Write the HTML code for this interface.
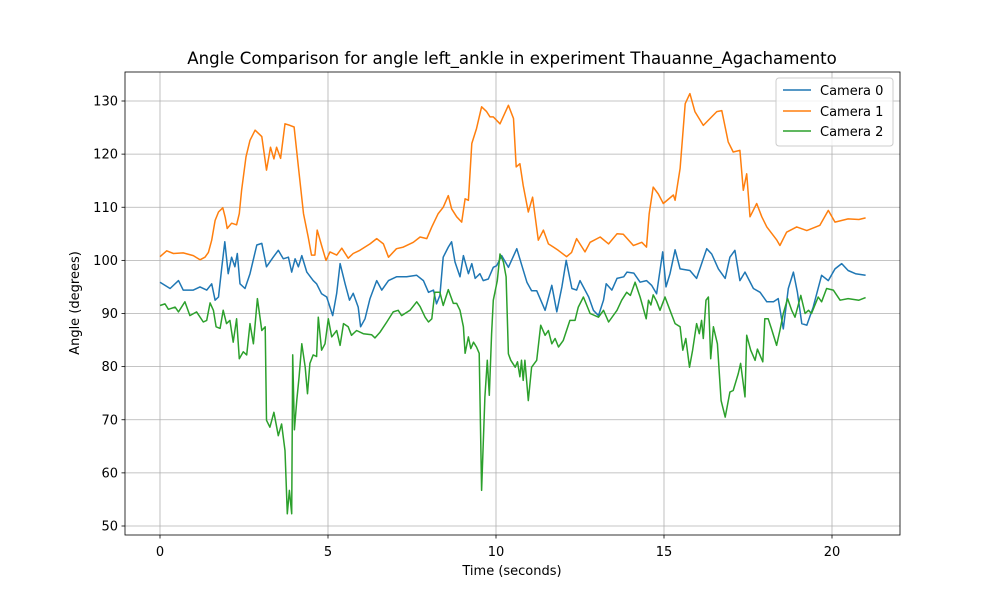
<!DOCTYPE html>
<html><head><meta charset="utf-8"><style>
body{margin:0;background:#fff}
svg text{font-family:"DejaVu Sans","Liberation Sans",sans-serif;fill:#000}
</style></head><body>
<svg id="chart" width="1000" height="600" xmlns="http://www.w3.org/2000/svg">
<rect width="1000" height="600" fill="#fff"/>
<g id="grid"></g>
<g id="series"></g>
<rect x="125" y="72" width="775" height="463" fill="none" stroke="#000" stroke-width="0.8"/>
<g id="ticks"></g>
<text x="512" y="64" font-size="16.6" text-anchor="middle">Angle Comparison for angle left_ankle in experiment Thauanne_Agachamento</text>
<text x="512" y="575" font-size="13" text-anchor="middle">Time (seconds)</text>
<text x="79" y="303" font-size="13" text-anchor="middle" transform="rotate(-90 79 303)">Angle (degrees)</text>
<g>
<rect x="776" y="78" width="117" height="68" rx="3" fill="#fff" fill-opacity="0.8" stroke="#ccc"/>
<line x1="783" y1="90" x2="811" y2="90" stroke="#1f77b4" stroke-width="1.5"/>
<text x="820" y="95" font-size="13">Camera 0</text>
<line x1="783" y1="111" x2="811" y2="111" stroke="#ff7f0e" stroke-width="1.5"/>
<text x="820" y="116" font-size="13">Camera 1</text>
<line x1="783" y1="131" x2="811" y2="131" stroke="#2ca02c" stroke-width="1.5"/>
<text x="820" y="136" font-size="13">Camera 2</text>
</g>
</svg>
<script>
const xTicks=[0,5,10,15,20];
const yTicks=[50,60,70,80,90,100,110,120,130];
const t1=[0,0.2,0.4,0.69,0.99,1.19,1.34,1.44,1.54,1.64,1.74,1.87,1.94,2.0,2.13,2.28,2.36,2.43,2.56,2.68,2.83,3.03,3.17,3.29,3.39,3.47,3.59,3.72,3.87,3.99,4.12,4.27,4.41,4.51,4.61,4.68,4.81,4.94,5.06,5.26,5.41,5.6,5.75,5.95,6.25,6.45,6.65,6.8,7.04,7.24,7.54,7.74,7.94,8.09,8.28,8.43,8.58,8.68,8.83,8.98,9.08,9.18,9.28,9.42,9.57,9.72,9.82,9.92,10.12,10.37,10.52,10.6,10.71,10.81,10.96,11.09,11.26,11.41,11.56,11.71,11.85,12.1,12.25,12.4,12.65,12.8,13.1,13.35,13.6,13.79,14.09,14.34,14.48,14.56,14.68,14.83,14.98,15.28,15.33,15.48,15.63,15.77,15.92,16.17,16.57,16.72,16.91,17.06,17.26,17.36,17.46,17.56,17.76,17.91,18.06,18.36,18.45,18.65,18.95,19.25,19.64,19.89,20.09,20.48,20.8,21.0];
const v1=[100.7,101.8,101.3,101.4,100.9,100.1,100.6,101.5,103.8,107.5,109.1,109.9,108.1,106,107,106.7,108.8,113.2,119.5,122.6,124.5,123.3,117,121.3,119.1,121.3,119.2,125.7,125.4,125.1,117.6,108.8,104.4,101,101,105.7,102.8,100,101.6,101,102.3,100.4,101.3,101.9,103.1,104.1,103.1,100.6,102.2,102.5,103.4,104.4,104.1,106.3,108.8,110,112.2,109.7,108.2,107.2,111.6,111.3,122,124.8,128.9,128,127,127,125.7,129.2,126.7,117.6,118.2,114.1,109.1,111.9,103.8,105.7,103.1,102.5,101.9,100.7,101.5,104.1,101.6,103.4,104.4,103.1,105,104.9,102.8,103.4,102.5,108.8,113.8,112.5,110.7,112.3,111.3,117.3,129.5,131.4,128,125.4,128,128.2,122.3,120.4,120.7,113.2,116.3,108.2,110.7,108.2,106.3,103.8,102.8,105.3,106.3,105.6,106.6,109.4,107.2,107.8,107.7,108];
const t0=[0,0.3,0.55,0.69,0.99,1.19,1.39,1.54,1.64,1.74,1.84,1.93,2.03,2.13,2.23,2.3,2.38,2.53,2.68,2.88,3.03,3.17,3.37,3.52,3.67,3.82,3.92,4.02,4.12,4.22,4.37,4.56,4.66,4.81,4.96,5.14,5.26,5.36,5.51,5.64,5.75,5.9,5.97,6.1,6.25,6.45,6.6,6.8,7.04,7.34,7.64,7.84,7.99,8.14,8.23,8.33,8.43,8.58,8.68,8.78,8.93,9.03,9.18,9.28,9.38,9.52,9.62,9.77,9.92,10.02,10.17,10.37,10.62,10.77,10.92,11.06,11.21,11.46,11.66,11.81,11.96,12.09,12.26,12.4,12.5,12.76,12.9,13.05,13.2,13.28,13.45,13.6,13.8,13.9,14.1,14.29,14.48,14.63,14.78,14.96,15.06,15.18,15.33,15.48,15.77,15.97,16.27,16.42,16.62,16.82,16.96,17.11,17.26,17.41,17.66,17.86,18.06,18.26,18.4,18.55,18.7,18.85,18.97,19.1,19.25,19.44,19.69,19.89,20.09,20.29,20.48,20.7,21.0];
const v0=[95.9,94.7,96.2,94.4,94.4,95,94.4,95.6,92.5,93.1,98.7,103.5,97.5,100.6,98.8,101.3,95.6,94.7,97.5,102.9,103.2,98.8,100.6,101.9,100.3,100.6,97.8,100.3,98.8,100.9,97.8,96.2,95.6,93.7,93.1,89.6,93.8,99.4,95.6,92.5,93.8,91.2,87.5,89,92.8,96.2,94.4,96.2,96.9,96.9,97.2,96.2,94,94.4,91.8,93.4,100.6,102.5,103.5,99.7,96.9,100.9,97.5,99.4,96.6,97.5,96.2,96.5,98.7,99,100.9,98.7,102.2,99,95.9,94.3,94.3,90.6,95.3,90.3,95,100,94.7,94.4,96.2,93.1,90.6,89.6,92.5,95.6,94.4,96.6,96.9,97.8,97.6,95.9,96.2,95.3,93.7,101.6,95,97.5,102,98.4,98.1,96.6,102.2,101.2,98.4,96.6,100.6,101.9,96.2,97.8,94.7,94,92.2,92.2,92.8,87.1,94.7,97.8,94,88.1,87.8,91.2,97.2,96.2,98.4,99.4,98.1,97.5,97.2];
const t2=[0,0.15,0.25,0.45,0.55,0.74,0.89,1.09,1.29,1.39,1.49,1.59,1.67,1.79,1.88,1.98,2.08,2.18,2.28,2.36,2.48,2.58,2.68,2.78,2.9,3.03,3.13,3.17,3.27,3.39,3.52,3.62,3.72,3.79,3.85,3.92,3.95,4.0,4.07,4.14,4.22,4.32,4.39,4.46,4.56,4.66,4.71,4.81,4.91,5.01,5.11,5.26,5.36,5.46,5.6,5.7,5.85,6.05,6.3,6.4,6.55,6.75,6.94,7.09,7.19,7.44,7.64,7.74,7.89,7.99,8.09,8.18,8.33,8.43,8.58,8.73,8.83,8.93,9.03,9.08,9.18,9.25,9.33,9.42,9.5,9.57,9.67,9.74,9.8,9.87,9.92,10.04,10.12,10.22,10.3,10.37,10.44,10.57,10.64,10.71,10.76,10.81,10.86,10.96,11.06,11.21,11.33,11.46,11.56,11.66,11.76,11.86,12.0,12.2,12.35,12.45,12.6,12.8,13.05,13.2,13.35,13.6,13.74,13.89,14.0,14.14,14.29,14.47,14.54,14.61,14.68,14.78,14.88,15.03,15.18,15.33,15.48,15.56,15.65,15.76,15.85,15.97,16.05,16.12,16.17,16.25,16.32,16.39,16.47,16.59,16.7,16.82,16.96,17.06,17.21,17.28,17.41,17.46,17.58,17.71,17.78,17.94,18.0,18.1,18.2,18.35,18.45,18.55,18.68,18.8,18.9,19.07,19.2,19.3,19.39,19.59,19.69,19.84,20.04,20.24,20.48,20.8,21.0];
const v2=[91.5,91.8,90.8,91.2,90.3,92.2,89.6,90.3,88.4,88.7,92,90.6,87.5,87.2,90.6,88.1,88.7,84.6,89,81.5,82.8,82.2,88.1,84.3,92.8,86.8,87.5,69.9,68.6,71.4,67,69.2,64.2,52.3,56.7,52.3,82.2,68.1,73.7,78.1,84.3,79.9,74.9,80.6,82.2,81.9,89.3,83.1,84.3,89,85.6,86.8,84,88.1,87.5,85.9,86.8,86.2,86,85.4,86.5,88.4,90.3,90.6,89.6,90.6,92.2,91.3,89.3,88.4,89,94,94,91.5,94.5,91.9,91.9,90.6,87.5,82.5,85.6,83.4,84.6,83.7,82.5,56.7,74.3,81.2,74.6,86.2,92.5,96.2,101.2,99.7,96.9,82.4,81.2,79.9,80.9,78.1,81.2,77.4,81.2,73.6,79.9,81.2,87.8,85.9,86.8,84.3,85.3,83.7,84.9,88.7,88.7,91.2,93.1,90,89.3,90.6,88.4,90.6,92.5,94,93.4,95.9,93.1,89,92.5,91.6,93.5,92.3,90.6,93.1,90.6,88.1,87.5,83.1,85.3,79.9,83.1,88.1,86.2,88.7,85.3,92.5,93.1,81.5,87.5,84.3,73.6,70.5,75.2,75.5,78.7,80.6,74.3,85.9,83.1,81.2,83.3,80.9,89,89,87.1,84,86.8,90,92.8,90.6,89.3,93.4,90,90.6,90,93.1,92.2,94.7,94.4,92.5,92.8,92.5,93];
const X=t=>160+t*33.6, Y=v=>526-(v-50)*5.3125;
const NS='http://www.w3.org/2000/svg';
const grid=document.getElementById('grid'),ticks=document.getElementById('ticks'),ser=document.getElementById('series');
function mk(tag,attrs,parent){const e=document.createElementNS(NS,tag);for(const k in attrs)e.setAttribute(k,attrs[k]);parent.appendChild(e);return e;}
xTicks.forEach(t=>{
 const g=mk('line',{x1:X(t),x2:X(t),y1:72,y2:535,stroke:'#b0b0b0','stroke-width':0.8},grid);
 
 
 const tk=mk('line',{x1:X(t),x2:X(t),y1:535,y2:538.5,stroke:'#000','stroke-width':0.8},ticks);
 
 
 const tx=mk('text',{x:X(t),y:556,'font-size':13,'text-anchor':'middle'},ticks);tx.textContent=t;
 
 
});
yTicks.forEach(v=>{
 const g=mk('line',{x1:125,x2:900,y1:Y(v),y2:Y(v),stroke:'#b0b0b0','stroke-width':0.8},grid);
 
 
 const tk=mk('line',{x1:121.5,x2:125,y1:Y(v),y2:Y(v),stroke:'#000','stroke-width':0.8},ticks);
 
 
 const tx=mk('text',{x:118,y:Y(v)+4.5,'font-size':13,'text-anchor':'end'},ticks);tx.textContent=v;
 
 
});
[[t0,v0,'#1f77b4','camera-0-line'],[t1,v1,'#ff7f0e','camera-1-line'],[t2,v2,'#2ca02c','camera-2-line']].forEach(([ts,vs,c,n])=>{
 const d=ts.map((t,i)=>(i?'L':'M')+X(t).toFixed(1)+','+Y(vs[i]).toFixed(1)).join('');
 const p=mk('path',{d:d,fill:'none',stroke:c,'stroke-width':1.5,'stroke-linejoin':'round'},ser);
 
 
});
</script>
</body></html>
